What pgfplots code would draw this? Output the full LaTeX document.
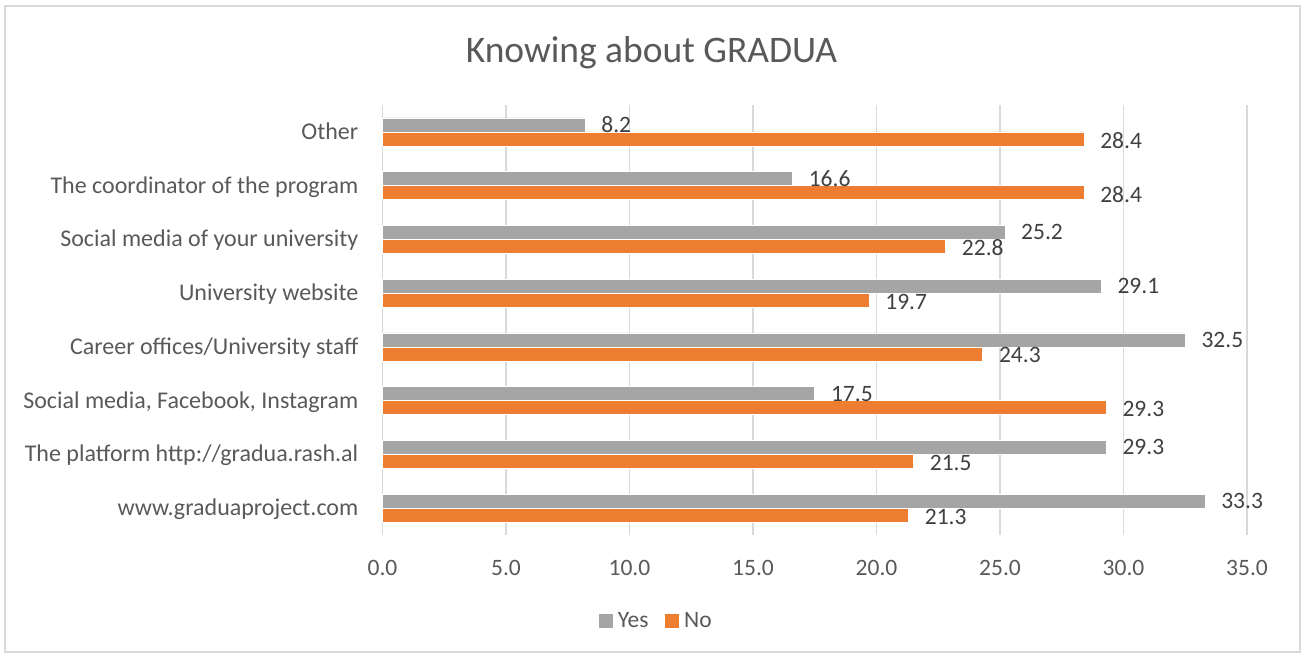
\documentclass[border=0pt]{standalone}
\usepackage{pgfplots}
\pgfplotsset{compat=1.18}
\usepackage{fontspec}
\setmainfont{Carlito}
\definecolor{barGray}{HTML}{A5A5A5}
\definecolor{barOrange}{HTML}{ED7D31}
\definecolor{gridGray}{HTML}{D9D9D9}
\definecolor{txtGray}{HTML}{595959}
\definecolor{lblGray}{HTML}{404040}
\begin{document}
\begin{tikzpicture}[x=1pt,y=1pt]
\useasboundingbox (0,0) rectangle (1303,-654);
\draw[gridGray, line width=1.2pt] (5,-6) rectangle (1300,-652);
\node[anchor=base, text=txtGray, font=\fontsize{37.5}{45}\selectfont, inner sep=0pt] at (651.5,-62) {Knowing about GRADUA};
\begin{axis}[
  at={(382.5pt,-535pt)}, anchor=south west,
  scale only axis, width=864.5pt, height=430pt,
  xmin=0, xmax=35, ymin=-0.5, ymax=7.5,
  clip=false,
  axis line style={draw=none},
  major tick length=0pt,
  xtick={0,5,...,35},
  xmajorgrids, grid style={gridGray, line width=1.5pt},
  xticklabel style={/pgf/number format/.cd, fixed, fixed zerofill, precision=1, assume math mode=true, /tikz/.cd,
    anchor=center, yshift=-33pt, inner sep=0pt, text=txtGray, font=\fontsize{23.5}{28}\selectfont},
  ytick={0,...,7},
  yticklabels={www.graduaproject.com, The platform http://gradua.rash.al, {Social media, Facebook, Instagram}, Career offices/University staff, University website, Social media of your university, The coordinator of the program, Other},
  yticklabel style={anchor=base east, inner sep=0pt, xshift=-24pt, yshift=-7.5pt, text=txtGray, font=\fontsize{24}{29}\selectfont},
  xbar, bar width=14pt,
  point meta=x,
  nodes near coords,
  nodes near coords style={/pgf/number format/.cd, fixed, fixed zerofill, precision=1, assume math mode=true, /tikz/.cd,
    anchor=west, inner sep=0pt, xshift=16pt, text=lblGray, font=\fontsize{23.5}{28}\selectfont},
  legend style={at={(0.306,-0.2)}, anchor=center, draw=none, legend columns=-1,
    font=\fontsize{23.5}{28}\selectfont, text=txtGray, column sep=0pt,
    nodes={inner sep=0pt}},
  legend image code/.code={\path (-16pt,0pt) -- (19pt,0pt); \fill[#1, draw=none] (0pt,-7pt) rectangle (14pt,7pt);},
]
\addplot[bar shift=7pt, fill=barGray, draw=white, line width=0.6pt]
  coordinates {(33.3,0) (29.3,1) (17.5,2) (32.5,3) (29.1,4) (25.2,5) (16.6,6) (8.2,7)};
\addplot[bar shift=-7pt, fill=barOrange, draw=white, line width=0.6pt, every node near coord/.append style={yshift=-1.5pt}]
  coordinates {(21.3,0) (21.5,1) (29.3,2) (24.3,3) (19.7,4) (22.8,5) (28.4,6) (28.4,7)};
\legend{Yes, No}
\end{axis}
\end{tikzpicture}
\end{document}
